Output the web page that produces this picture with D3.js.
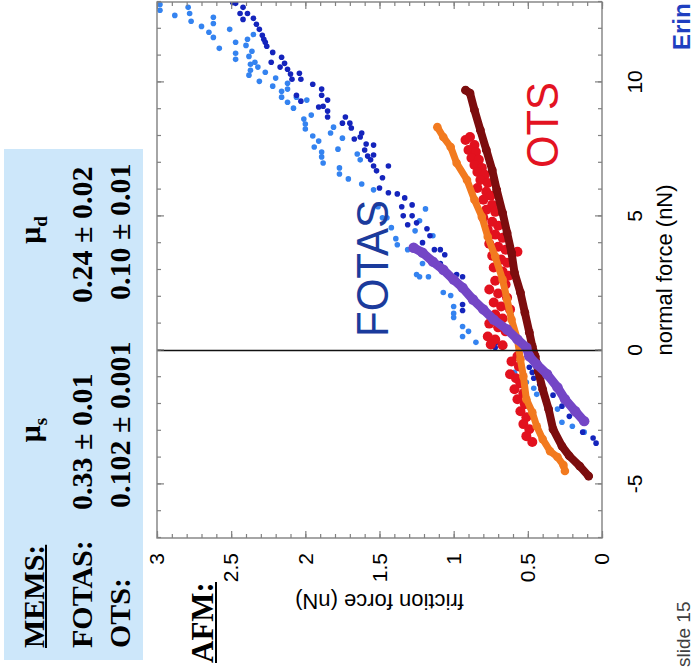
<!DOCTYPE html>
<html>
<head>
<meta charset="utf-8">
<script src="https://cdn.jsdelivr.net/npm/d3@7"></script>
<style>
  body { margin: 0; background: #fff; }
</style>
</head>
<body>
<svg id="chart" width="698" height="670"></svg>
<script>
// values: [normal force nN, friction force nN]
const fotasLight = [
  [12.91,2.98],[12.69,2.98],[12.50,2.88],[12.80,2.79],[12.57,2.78],[12.28,2.77],[12.09,2.70],[11.87,2.65],
  [12.43,2.62],[12.20,2.62],[11.68,2.62],[11.27,2.58],[11.98,2.51],[11.50,2.47],[11.09,2.47],[10.86,2.47],
  [11.61,2.39],[11.38,2.40],[11.16,2.36],[10.97,2.38],[10.75,2.34],[10.68,2.37],[10.45,2.37],[10.27,2.38],
  [11.79,2.35],[10.57,2.32],[10.04,2.31],[10.38,2.27],[9.86,2.22],[10.16,2.20],[9.67,2.16],[9.45,2.16],
  [9.26,2.12],[9.97,2.12],[9.75,2.12],[9.04,2.08],[9.45,2.06],[8.63,2.01],[8.45,2.00],[8.26,2.00],
  [9.34,1.99],[8.78,1.96],[8.00,1.95],[7.59,1.94],[7.81,1.91],[7.22,1.89],[7.40,1.89],[6.99,1.88],
  [8.11,1.83],[8.33,1.81],[7.51,1.78],[7.92,1.75],[6.81,1.77],[6.58,1.77],[6.40,1.71],[7.33,1.65],
  [7.11,1.63],[6.21,1.62],[5.99,1.54],[5.36,1.51],[4.95,1.48],[4.95,1.45],[4.58,1.42],[4.17,1.39],
  [3.94,1.38],[3.76,1.31],[5.28,1.19],[4.84,1.23],[4.46,1.26],[4.28,1.14],[3.76,1.23],[3.24,1.21],
  [2.83,1.25],[2.75,1.23],[2.75,1.17],[2.16,1.07],[2.05,1.02],[1.64,1.00],[1.38,1.00],[1.23,1.00],
  [0.89,0.94],[0.52,0.94],[0.71,0.90],[0.30,0.85],[1.38,0.78],
  [-0.82,0.59],[-1.19,0.51],[-1.41,0.46],[-1.64,0.44],[-1.90,0.37],[-2.19,0.30],[-2.68,0.27],
  [-2.83,0.20],[-3.05,0.12]
];
const fotasDark = [
  [12.98,2.49],[12.95,2.47],[12.80,2.42],[12.57,2.44],[12.57,2.39],[12.35,2.42],[12.39,2.35],[12.17,2.33],
  [11.98,2.31],[11.76,2.29],[11.61,2.28],[11.50,2.27],[11.35,2.26],[11.12,2.22],[10.75,2.23],[10.94,2.16],
  [10.71,2.14],[10.57,2.17],[10.49,2.12],[10.31,2.10],[10.12,2.09],[10.34,2.04],[10.12,2.03],[9.52,2.06],
  [9.30,2.03],[9.93,1.95],[9.75,1.89],[9.52,1.89],[9.34,1.85],[9.08,1.91],[9.11,1.88],[8.93,1.85],
  [8.71,1.85],[8.71,1.73],[8.48,1.75],[8.48,1.70],[8.30,1.69],[7.89,1.67],[7.96,1.63],[8.11,1.62],
  [7.70,1.59],[7.48,1.60],[7.25,1.58],[7.66,1.54],[7.29,1.54],[7.11,1.56],[6.88,1.54],[6.70,1.52],
  [6.88,1.44],[6.44,1.48],[6.06,1.50],[5.88,1.44],[5.84,1.38],[5.69,1.33],[5.36,1.35],[5.43,1.28],
  [5.02,1.34],[5.02,1.28],[4.76,1.25],[4.69,1.31],[4.54,1.18],[4.28,1.16],[4.02,1.21],[3.76,1.13],
  [3.76,1.09],[3.57,1.06],[3.24,1.09],[2.98,1.06],[2.83,0.98],[2.75,0.94],[1.71,0.94],[1.49,0.94],
  [0.45,0.76],[0.30,0.71],[0.11,0.72],
  [-0.22,0.56],[-0.63,0.49],[-0.82,0.47],[-1.04,0.46],[-1.26,0.42],[-1.67,0.33],[-2.08,0.27],
  [-2.46,0.22],[-3.05,0.13],[-3.27,0.06],[-3.46,0.04]
];
const fotasAfm = [
  [3.83,1.27],[3.65,1.21],[3.31,1.14],[3.01,1.07],[2.64,1.00],[2.34,0.94],[1.90,0.87],[1.53,0.80],
  [1.15,0.73],[0.78,0.64],[0.41,0.57],[0.11,0.51],[-0.22,0.49],[-0.52,0.44],[-0.89,0.37],[-1.38,0.30],
  [-1.82,0.25],[-2.27,0.18],[-2.64,0.12]
];
const otsDark = [
  [9.71,0.92],[9.60,0.89],[8.97,0.86],[8.22,0.82],[7.48,0.78],[6.73,0.74],[5.99,0.71],[5.13,0.67],
  [4.39,0.64],[3.65,0.61],[2.90,0.59],[2.16,0.55],[1.41,0.52],[0.67,0.49],[0.15,0.47],[-0.22,0.45],
  [-0.78,0.43],[-1.45,0.40],[-2.19,0.36],[-2.94,0.33],[-3.57,0.27],[-3.94,0.22],[-4.32,0.15],[-4.69,0.09]
];
const otsOrange = [
  [8.33,1.11],[7.96,1.07],[7.59,1.02],[6.99,0.98],[6.36,0.91],[5.62,0.86],[4.99,0.81],[4.24,0.77],
  [3.50,0.72],[2.64,0.67],[1.90,0.64],[1.15,0.61],[0.41,0.57],[-0.33,0.55],[-0.97,0.53],[-1.82,0.51],
  [-2.31,0.47],[-2.83,0.44],[-3.31,0.40],[-3.76,0.35],[-3.98,0.30],[-4.28,0.26],[-4.50,0.25]
];
const otsRed = [
  [7.85,0.92],[7.96,0.89],[7.66,0.86],[7.48,0.90],[7.40,0.85],[7.18,0.88],[7.11,0.83],[6.92,0.86],
  [6.81,0.81],[6.66,0.84],[6.55,0.79],[6.36,0.82],[6.25,0.77],[6.06,0.84],[5.92,0.78],[5.77,0.75],
  [5.62,0.80],[5.43,0.74],[5.25,0.78],[5.17,0.72],[4.95,0.80],[4.80,0.74],[4.65,0.70],[4.50,0.77],
  [4.32,0.72],[4.20,0.67],[3.98,0.76],[3.87,0.70],[3.76,0.65],[3.68,0.57],[3.53,0.74],[3.39,0.68],
  [3.27,0.64],[3.09,0.73],[2.94,0.67],[2.79,0.63],[2.60,0.72],[2.46,0.65],[2.27,0.76],[2.12,0.70],
  [1.97,0.64],[1.79,0.73],[1.64,0.68],[1.53,0.62],[1.34,0.72],[1.19,0.67],[1.00,0.76],[0.86,0.70],
  [0.71,0.65],[0.52,0.77],[0.41,0.72],[0.22,0.75],[0.19,0.67],
  [-0.22,0.57],[-0.41,0.61],[-0.60,0.56],[-0.89,0.62],[-1.04,0.58],[-1.23,0.55],[-1.45,0.59],
  [-1.60,0.53],[-1.82,0.57],[-2.01,0.52],[-2.27,0.55],[-2.49,0.51],[-2.75,0.53],[-2.94,0.49],
  [-3.20,0.51],[-3.42,0.47]
];

const normalTicks = [-5, 0, 5, 10];
const frictionTicks = [0, 0.5, 1, 1.5, 2, 2.5, 3];

const tableRows = ['FOTAS:', 'OTS:'];
const muStatic = ['0.33 \u00b1 0.01', '0.102 \u00b1 0.001'];
const muDynamic = ['0.24 \u00b1 0.02', '0.10 \u00b1 0.01'];

const sans = "'Liberation Sans', Arial, sans-serif";
const serif = "'Liberation Serif', 'Times New Roman', serif";
const frameGray = '#808080';

const svg = d3.select('#chart');

// the slide is laid out upright, then turned a quarter turn to the left
const slide = svg.append('g').attr('transform', 'translate(0,670) rotate(-90)');

const x = d3.scaleLinear().domain([-7, 13]).range([132, 668]);
const y = d3.scaleLinear().domain([0, 3]).range([602, 157]);

/* ---- MEMS table ---- */
slide.append('rect')
  .attr('x', 10).attr('y', 4).attr('width', 511).attr('height', 139)
  .attr('fill', '#cde7fa');

const table = slide.append('g')
  .attr('font-family', serif).attr('font-weight', 'bold').attr('font-size', 30).attr('fill', '#000');

const mems = table.append('text').attr('x', 22).attr('y', 44).text('MEMS:');
table.append('line')
  .attr('x1', 22).attr('x2', 22 + mems.node().getComputedTextLength())
  .attr('y1', 46).attr('y2', 46).attr('stroke', '#000').attr('stroke-width', 2);

table.selectAll('text.row').data(tableRows).join('text')
  .attr('class', 'row').attr('x', 22).attr('y', (d, i) => 92 + i * 38).text(d => d);
table.selectAll('text.ms').data(muStatic).join('text')
  .attr('class', 'ms').attr('x', (d, i) => 160 + i * 2).attr('y', (d, i) => 92 + i * 38).text(d => d);
table.selectAll('text.md').data(muDynamic).join('text')
  .attr('class', 'md').attr('x', (d, i) => 367 + i * 3).attr('y', (d, i) => 92 + i * 38).text(d => d);

[['s', 240], ['d', 440]].forEach(([sub, cx]) => {
  const t = table.append('text').attr('x', cx).attr('y', 40).attr('text-anchor', 'middle').text('\u03bc');
  t.append('tspan').attr('font-size', 19).attr('dy', 7).text(sub);
});

const afm = table.append('text').attr('x', 7).attr('y', 213).attr('font-size', 31).text('AFM:');
table.append('line')
  .attr('x1', 7).attr('x2', 7 + afm.node().getComputedTextLength())
  .attr('y1', 216).attr('y2', 216).attr('stroke', '#000').attr('stroke-width', 2);

/* ---- plot ---- */
slide.append('clipPath').attr('id', 'plotClip')
  .append('rect').attr('x', 132).attr('y', 157).attr('width', 536).attr('height', 445);

const marks = slide.append('g').attr('clip-path', 'url(#plotClip)');
const line = d3.line().x(d => x(d[0])).y(d => y(d[1]));

// band = stroke width of the dense trace under the dots (0: dots only)
const series = [
  { data: fotasLight, color: '#3483f0', r: 2.8, band: 0 },
  { data: fotasDark, color: '#1424bc', r: 2.8, band: 0 },
  { data: otsRed, color: '#e2111e', r: 5, band: 0 },
  { data: otsOrange, color: '#f27a1f', r: 4.3, band: 7 },
  { data: otsDark, color: '#7c0d0e', r: 4.4, band: 8 },
  { data: fotasAfm, color: '#7446c6', r: 5.2, band: 9 }
];

series.forEach(s => {
  if (s.band) {
    marks.append('path')
      .attr('d', line(s.data))
      .attr('fill', 'none').attr('stroke', s.color)
      .attr('stroke-width', s.band)
      .attr('stroke-linejoin', 'round').attr('stroke-linecap', 'round');
  }
  marks.append('g').selectAll('circle').data(s.data).join('circle')
    .attr('cx', d => x(d[0])).attr('cy', d => y(d[1])).attr('r', s.r)
    .attr('fill', s.color);
});

// zero normal-force line
slide.append('line')
  .attr('x1', x(0)).attr('x2', x(0)).attr('y1', y(0)).attr('y2', y(3))
  .attr('stroke', '#111').attr('stroke-width', 1.5);

slide.append('rect')
  .attr('x', 132).attr('y', 157).attr('width', 536).attr('height', 445)
  .attr('fill', 'none').attr('stroke', frameGray).attr('stroke-width', 1.4);

function styleAxis(g) {
  g.select('.domain').remove();
  g.selectAll('.tick line').attr('stroke', frameGray).attr('stroke-width', 1.2);
  g.selectAll('.tick text').attr('font-family', sans).attr('font-size', 21).attr('fill', '#000');
}

const minorX = d3.range(-7, 14);
const minorY = d3.range(0, 31).map(i => i / 10);
const noLabel = () => '';

slide.append('g').attr('transform', 'translate(0,602)')
  .call(d3.axisBottom(x).tickValues(minorX).tickSize(-4).tickSizeOuter(0).tickFormat(noLabel)).call(styleAxis);
slide.append('g').attr('transform', 'translate(0,602)')
  .call(d3.axisBottom(x).tickValues(normalTicks).tickSize(-7).tickSizeOuter(0).tickPadding(25)
    .tickFormat(d => String(d))).call(styleAxis);
slide.append('g').attr('transform', 'translate(0,157)')
  .call(d3.axisTop(x).tickValues(minorX).tickSize(-4).tickSizeOuter(0).tickFormat(noLabel)).call(styleAxis);
slide.append('g').attr('transform', 'translate(0,157)')
  .call(d3.axisTop(x).tickValues(normalTicks).tickSize(-7).tickSizeOuter(0).tickFormat(noLabel)).call(styleAxis);

slide.append('g').attr('transform', 'translate(132,0)')
  .call(d3.axisLeft(y).tickValues(minorY).tickSize(-4).tickSizeOuter(0).tickFormat(noLabel)).call(styleAxis);
slide.append('g').attr('transform', 'translate(132,0)')
  .call(d3.axisLeft(y).tickValues(frictionTicks).tickSize(-7).tickSizeOuter(0).tickPadding(15)
    .tickFormat(d => String(d))).call(styleAxis);
slide.append('g').attr('transform', 'translate(668,0)')
  .call(d3.axisRight(y).tickValues(minorY).tickSize(-4).tickSizeOuter(0).tickFormat(noLabel)).call(styleAxis);
slide.append('g').attr('transform', 'translate(668,0)')
  .call(d3.axisRight(y).tickValues(frictionTicks).tickSize(-7).tickSizeOuter(0).tickFormat(noLabel)).call(styleAxis);

slide.append('text')
  .attr('x', 400).attr('y', 672).attr('text-anchor', 'middle')
  .attr('font-family', sans).attr('font-size', 22).text('normal force (nN)');
slide.append('text')
  .attr('transform', `translate(76,${y(1.5)}) rotate(-90)`).attr('text-anchor', 'middle')
  .attr('font-family', sans).attr('font-size', 22).text('friction force (nN)');

// in-plot labels
slide.append('text')
  .attr('x', 333).attr('y', 388).attr('font-family', sans).attr('font-size', 45)
  .attr('textLength', 137).attr('lengthAdjust', 'spacingAndGlyphs')
  .attr('fill', '#1b3b9c').text('FOTAS');
slide.append('text')
  .attr('x', 502).attr('y', 558).attr('font-family', sans).attr('font-size', 45)
  .attr('textLength', 86).attr('lengthAdjust', 'spacingAndGlyphs')
  .attr('fill', '#e31322').text('OTS');

// slide furniture
slide.append('text')
  .attr('x', 3).attr('y', 690).attr('font-family', sans).attr('font-size', 19)
  .attr('fill', '#404040').text('slide 15');
slide.append('text')
  .attr('x', 620).attr('y', 690).attr('font-family', sans).attr('font-size', 24)
  .attr('font-weight', 'bold').attr('fill', '#1f3fc0').text('Erin');
</script>
</body>
</html>
